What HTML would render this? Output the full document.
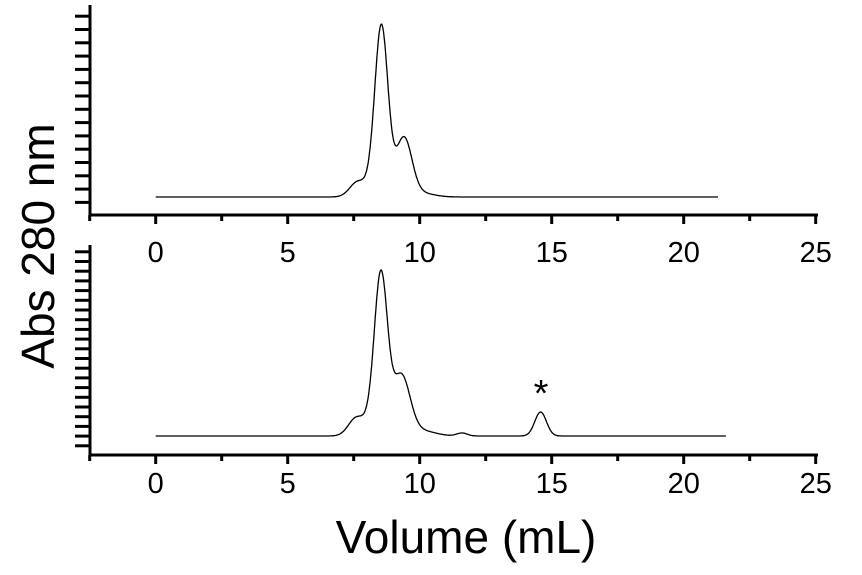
<!DOCTYPE html>
<html><head><style>body{margin:0;background:#fff}svg{display:block}</style></head>
<body>
<svg id="s" width="862" height="575" viewBox="0 0 862 575" font-family="'Liberation Sans', sans-serif">
<g stroke="#000" stroke-width="3" fill="none" id="axes"></g>
<path id="p1" fill="none" stroke="#000" stroke-width="1.3"/>
<path id="p2" fill="none" stroke="#000" stroke-width="1.3"/>
<g font-size="29" text-anchor="middle" fill="#000">
<text x="155.7" y="262">0</text><text x="287.7" y="262">5</text><text x="419.7" y="262">10</text><text x="551.7" y="262">15</text><text x="683.7" y="262">20</text><text x="815.7" y="262">25</text>
<text x="155.7" y="493">0</text><text x="287.7" y="493">5</text><text x="419.7" y="493">10</text><text x="551.7" y="493">15</text><text x="683.7" y="493">20</text><text x="815.7" y="493">25</text>
</g>
<text x="541" y="406" font-size="38" text-anchor="middle">*</text>
<text transform="translate(54,246) rotate(-90)" font-size="46" text-anchor="middle">Abs 280 nm</text>
<text x="466" y="553" font-size="46" text-anchor="middle">Volume (mL)</text>
</svg>
<script>
const X=v=>155.7+26.4*v;
let a='';
function panel(top,bot,step){
 a+=`<path d="M90 ${top}V${bot}H818"/>`;
 for(let y=bot-step*0.95;y>top+5;y-=step)a+=`<path d="M75 ${y.toFixed(1)}H90"/>`;
 for(let v=-2.5;v<=25.01;v+=2.5)a+=`<path d="M${X(v).toFixed(1)} ${bot}v${v%5==0?9:6}"/>`;
}
panel(5,215,13.3);panel(245,455,9.7);
document.getElementById('axes').innerHTML=a;
const g=(x,m,s)=>Math.exp(-((x-m)*(x-m))/(2*s*s));
function path(base,end,peaks){let d='';for(let v=0;v<=end;v+=0.02){let y=base;for(const[A,m,s]of peaks){y-=A*g(v,m,s);}d+=(d?'L':'M')+X(v).toFixed(1)+' '+y.toFixed(1);}return d;}
document.getElementById('p1').setAttribute('d',path(197,21.3,[[170,8.55,0.25],[58,9.4,0.3],[15,7.65,0.3],[6,8.15,0.25],[4,10.0,0.5]]));
document.getElementById('p2').setAttribute('d',path(436,21.6,[[160,8.53,0.25],[60,9.3,0.33],[18,7.6,0.3],[8,8.1,0.25],[5,10.1,0.5],[3,11.6,0.2],[24,14.58,0.22]]));
</script>
</body></html>
